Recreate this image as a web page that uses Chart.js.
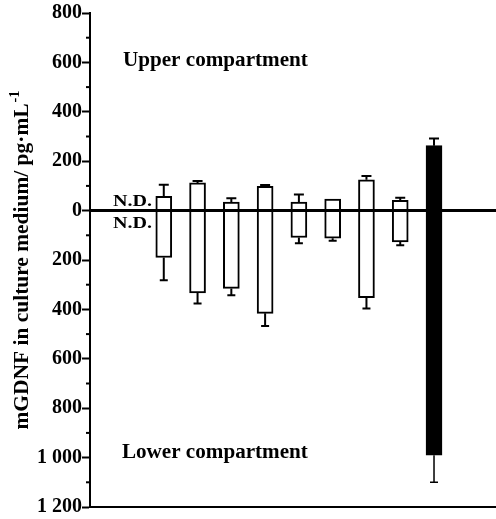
<!DOCTYPE html>
<html>
<head>
<meta charset="utf-8">
<script src="https://cdn.jsdelivr.net/npm/chart.js@4.4.1/dist/chart.umd.min.js"></script>
<style>
  html, body { margin: 0; padding: 0; background: #fff; }
</style>
</head>
<body>
<canvas id="gdnfChart" width="496" height="519"></canvas>
<script>
// x slots: 1 = N.D. group, 2..9 = open bars, 10 = filled bar
const slots = [1, 2, 3, 4, 5, 6, 7, 8, 9, 10];
// upper compartment (plotted upwards)
const upperMean = [null, 58, 112, 35, 98, 35, 47, 125, 42, 263];
const upperSd = [null, 47, 8, 15, 6, 30, 0, 15, 10, 29];
// lower compartment (plotted downwards, so negative)
const lowerMean = [null, -190, -333, -315, -416, -109, -112, -353, -127, -990];
const lowerSd = [null, 92, 43, 28, 51, 23, 10, 43, 13, 110];
// y ticks: labelled every 200, minor every 100
const yMin = -1200;
const yMax = 800;
const yStep = 100;
const yLabelStep = 200;

const SERIF = "'Liberation Serif', 'Times New Roman', serif";
const filled = slots.map((s) => (s === 10 ? "#000" : "#fff"));

function fmtTick(v) {
  const a = Math.abs(v);
  return a >= 1000 ? Math.floor(a / 1000) + " " + String(a % 1000).padStart(3, "0") : String(a);
}

// draws bold text squeezed/stretched to a given width
function drawText(ctx, text, x, y, size, width) {
  ctx.save();
  ctx.font = "bold " + size + "px " + SERIF;
  const w = ctx.measureText(text).width;
  ctx.translate(x, y);
  ctx.scale(width / w, 1);
  ctx.textAlign = "left";
  ctx.textBaseline = "alphabetic";
  ctx.fillText(text, 0, 0);
  ctx.restore();
}

const decorPlugin = {
  id: "decor",
  afterDatasetsDraw(chart) {
    const { ctx, chartArea } = chart;
    const xs = chart.scales.x;
    const ys = chart.scales.y;
    ctx.save();
    ctx.strokeStyle = "#000";
    ctx.fillStyle = "#000";

    // error whiskers, only on the outer side of each bar
    slots.forEach((s, i) => {
      const px = xs.getPixelForValue(s);
      const last = s === 10;
      const pairs = [
        [upperMean[i], upperSd[i]],
        [lowerMean[i], -lowerSd[i]],
      ];
      pairs.forEach(([m, sd], k) => {
        if (m == null || !sd) return;
        const y0 = ys.getPixelForValue(m);
        const y1 = ys.getPixelForValue(m + sd);
        const cap = k === 0 ? 10 : 8;
        ctx.lineWidth = last && k === 1 ? 1.5 : 2;
        ctx.beginPath();
        ctx.moveTo(px, y0);
        ctx.lineTo(px, y1);
        ctx.moveTo(px - cap / 2, y1);
        ctx.lineTo(px + cap / 2, y1);
        ctx.stroke();
      });
    });

    // zero line across the whole plot
    const y0 = ys.getPixelForValue(0);
    ctx.lineWidth = 3;
    ctx.beginPath();
    ctx.moveTo(chartArea.left, y0);
    ctx.lineTo(chart.width, y0);
    ctx.stroke();

    // minor ticks
    ctx.lineWidth = 2;
    ys.ticks.forEach((t) => {
      if (t.value % yLabelStep === 0) return;
      const py = ys.getPixelForValue(t.value);
      ctx.beginPath();
      ctx.moveTo(chartArea.left - 4, py);
      ctx.lineTo(chartArea.left, py);
      ctx.stroke();
    });

    // annotations
    drawText(ctx, "Upper compartment", xs.getPixelForValue(0.79), ys.getPixelForValue(586), 20, 185);
    drawText(ctx, "Lower compartment", xs.getPixelForValue(0.76), ys.getPixelForValue(-1002), 20, 186);
    drawText(ctx, "N.D.", xs.getPixelForValue(0.5), ys.getPixelForValue(18), 16, 39);
    drawText(ctx, "N.D.", xs.getPixelForValue(0.5), ys.getPixelForValue(-69), 16, 39);

    // y axis title with superscript
    const main = "mGDNF in culture medium/ pg\u00b7mL";
    const sup = "-1";
    ctx.translate(28, (chartArea.top + chartArea.bottom) / 2);
    ctx.rotate(-Math.PI / 2);
    ctx.font = "bold 21px " + SERIF;
    const wm = ctx.measureText(main).width;
    ctx.font = "bold 14px " + SERIF;
    const ws = ctx.measureText(sup).width;
    const k = 339 / (wm + ws + 1);
    ctx.scale(k, 1);
    const start = -(wm + ws + 1) / 2;
    ctx.textBaseline = "alphabetic";
    ctx.textAlign = "left";
    ctx.font = "bold 21px " + SERIF;
    ctx.fillText(main, start, 0);
    ctx.font = "bold 14px " + SERIF;
    ctx.fillText(sup, start + wm + 1, -9);
    ctx.restore();
  },
};

const ctx = document.getElementById("gdnfChart").getContext("2d");
new Chart(ctx, {
  type: "bar",
  data: {
    datasets: [
      {
        label: "Upper compartment",
        data: slots.map((x, i) => ({ x, y: upperMean[i] })),
        backgroundColor: filled,
        borderColor: "#000",
        borderWidth: 2,
        barThickness: 16,
        grouped: false,
      },
      {
        label: "Lower compartment",
        data: slots.map((x, i) => ({ x, y: lowerMean[i] })),
        backgroundColor: filled,
        borderColor: "#000",
        borderWidth: 2,
        barThickness: 16,
        grouped: false,
      },
    ],
  },
  options: {
    responsive: false,
    animation: false,
    devicePixelRatio: 1,
    layout: { padding: { top: 13, right: 0, bottom: 11, left: 0 } },
    plugins: {
      legend: { display: false },
      tooltip: { enabled: false },
    },
    scales: {
      x: {
        type: "linear",
        offset: false,
        min: -0.184,
        max: 11.835,
        ticks: { display: false },
        grid: { display: false, drawTicks: false, offset: false },
        border: { display: true, color: "#000", width: 2 },
      },
      y: {
        min: yMin,
        max: yMax,
        afterBuildTicks: (scale) => {
          const t = [];
          for (let v = yMin; v <= yMax; v += yStep) t.push({ value: v });
          scale.ticks = t;
        },
        afterFit: (scale) => {
          scale.width = 90;
        },
        ticks: {
          autoSkip: false,
          padding: 0,
          color: "#000",
          font: { family: SERIF, size: 20, weight: "bold" },
          callback: (v) => (v % yLabelStep === 0 ? fmtTick(v) : ""),
        },
        grid: {
          drawOnChartArea: false,
          tickLength: 8,
          tickColor: "#000",
          tickWidth: (c) => (c.tick && c.tick.value % yLabelStep === 0 ? 2 : 0),
        },
        border: { display: true, color: "#000", width: 2 },
      },
    },
  },
  plugins: [decorPlugin],
});
</script>
</body>
</html>
